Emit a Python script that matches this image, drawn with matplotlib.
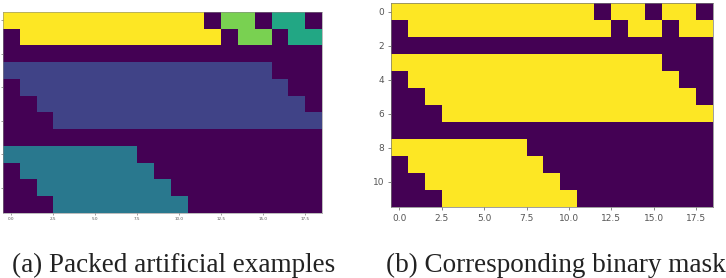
import numpy as np
import matplotlib.pyplot as plt

# packed example ids per cell (0 = padding)
packed = [
    [5, 5, 5, 5, 5, 5, 5, 5, 5, 5, 5, 5, 0, 4, 4, 0, 3, 3, 0],
    [0, 5, 5, 5, 5, 5, 5, 5, 5, 5, 5, 5, 5, 0, 4, 4, 0, 3, 3],
    [0, 0, 0, 0, 0, 0, 0, 0, 0, 0, 0, 0, 0, 0, 0, 0, 0, 0, 0],
    [1, 1, 1, 1, 1, 1, 1, 1, 1, 1, 1, 1, 1, 1, 1, 1, 0, 0, 0],
    [0, 1, 1, 1, 1, 1, 1, 1, 1, 1, 1, 1, 1, 1, 1, 1, 1, 0, 0],
    [0, 0, 1, 1, 1, 1, 1, 1, 1, 1, 1, 1, 1, 1, 1, 1, 1, 1, 0],
    [0, 0, 0, 1, 1, 1, 1, 1, 1, 1, 1, 1, 1, 1, 1, 1, 1, 1, 1],
    [0, 0, 0, 0, 0, 0, 0, 0, 0, 0, 0, 0, 0, 0, 0, 0, 0, 0, 0],
    [2, 2, 2, 2, 2, 2, 2, 2, 0, 0, 0, 0, 0, 0, 0, 0, 0, 0, 0],
    [0, 2, 2, 2, 2, 2, 2, 2, 2, 0, 0, 0, 0, 0, 0, 0, 0, 0, 0],
    [0, 0, 2, 2, 2, 2, 2, 2, 2, 2, 0, 0, 0, 0, 0, 0, 0, 0, 0],
    [0, 0, 0, 2, 2, 2, 2, 2, 2, 2, 2, 0, 0, 0, 0, 0, 0, 0, 0],
]
xticks = [0.0, 2.5, 5.0, 7.5, 10.0, 12.5, 15.0, 17.5]
yticks = [0, 2, 4, 6, 8, 10]
captions = ['(a) Packed artificial examples', '(b) Corresponding binary mask']

packed = np.array(packed)
mask = (packed > 0).astype(int)

W, H = 726, 278
fig = plt.figure(figsize=(W / 100, H / 100), dpi=100)

# left panel: ids
ax1 = fig.add_axes([3 / W, (H - 213) / H, 319 / W, 201 / H])
ax1.imshow(packed, cmap='viridis', vmin=0, vmax=5, aspect='auto', interpolation='nearest')
ax1.set_xticks(xticks)
ax1.set_yticks(yticks)
ax1.tick_params(labelsize=3, length=1.5, width=0.4, colors='#555555', pad=1.5, labelleft=False)
for s in ax1.spines.values():
    s.set_linewidth(0.4)
    s.set_color('#888888')

# right panel: mask
ax2 = fig.add_axes([391 / W, (H - 207) / H, 322 / W, 204 / H])
ax2.imshow(mask, cmap='viridis', vmin=0, vmax=1, aspect='auto', interpolation='nearest')
ax2.set_xticks(xticks)
ax2.set_yticks(yticks)
ax2.tick_params(labelsize=6.5, length=2.5, width=0.5, colors='#555555', pad=2.5)
for s in ax2.spines.values():
    s.set_linewidth(0.5)
    s.set_color('#777777')

fig.text(174 / W, 1 - 265 / H, captions[0], ha='center', va='center',
         family='Liberation Serif', fontsize=19.5, color='#222222')
fig.text(386 / W, 1 - 265 / H, captions[1], ha='left', va='center',
         family='Liberation Serif', fontsize=19.5, color='#222222')

fig.savefig('out.png', dpi=100)
